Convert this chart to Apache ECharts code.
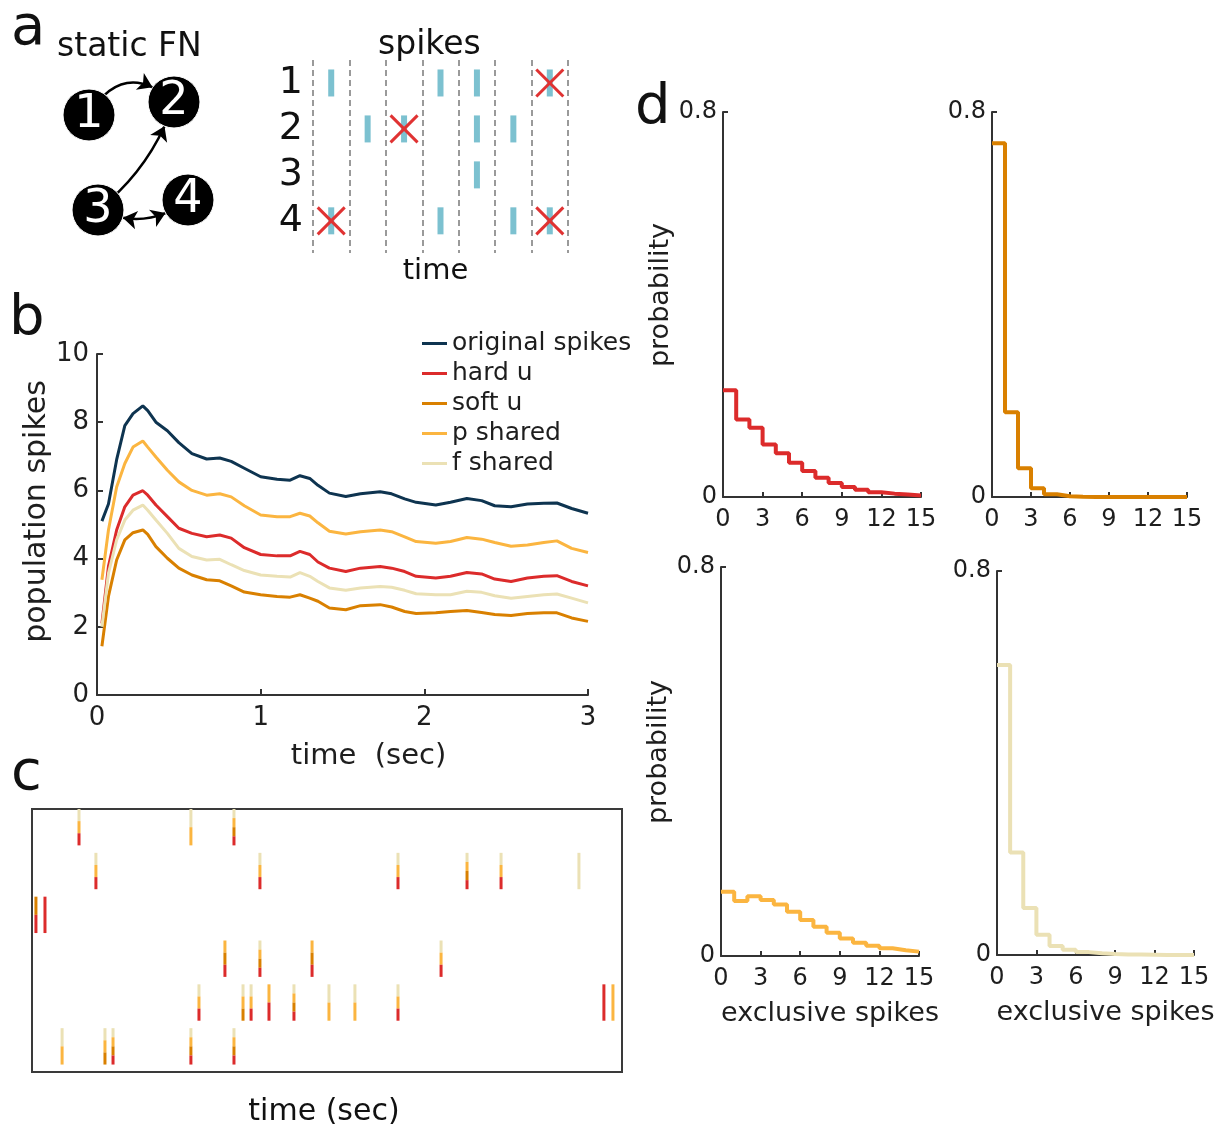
<!DOCTYPE html>
<html><head><meta charset="utf-8">
<script src="https://cdn.jsdelivr.net/npm/echarts@6/dist/echarts.min.js"></script>
<style>html,body{margin:0;padding:0;background:#fff}#c{width:1225px;height:1128px}</style>
</head><body><div id="c"></div>
<script>
const FONT = 'DejaVu Sans';
// ---------- panel a: network ----------
const nodeNames = ['1', '2', '3', '4'];
const nodeX = [1.45, 5.7, 1.9, 6.4];
const nodeY = [1.75, 1.1, 6.5, 6.0];
const edgeFrom = ['1', '3', '3'];
const edgeTo = ['2', '2', '4'];
const edgeCurve = [0.6, -0.15, -0.3];
const edgeBoth = [false, false, true];
// ---------- panel a: spikes ----------
const spikeRowLabels = [1, 2, 3, 4];
const spikeRow = [1, 1, 1, 1, 2, 2, 2, 2, 3, 4, 4, 4, 4];
const spikeBin = [1, 4, 5, 7, 2, 3, 5, 6, 5, 1, 4, 6, 7];
const spikeDropped = [0, 0, 0, 1, 0, 1, 0, 0, 0, 1, 0, 0, 1];
// ---------- panel b ----------
const timeB = [0.03,0.07,0.12,0.17,0.22,0.28,0.31,0.36,0.43,0.50,0.58,0.67,0.75,0.82,0.90,1.00,1.10,1.18,1.24,1.30,1.35,1.42,1.52,1.61,1.73,1.80,1.88,1.95,2.07,2.16,2.26,2.35,2.43,2.53,2.63,2.73,2.81,2.90,3.00];
const origSpikes = [5.1,5.6,6.9,7.9,8.25,8.48,8.34,8.0,7.75,7.4,7.08,6.92,6.95,6.85,6.65,6.4,6.33,6.3,6.43,6.35,6.15,5.92,5.82,5.9,5.96,5.9,5.75,5.65,5.57,5.65,5.76,5.7,5.55,5.52,5.6,5.62,5.63,5.47,5.33];
const hardU = [2.1,3.77,4.84,5.52,5.86,5.99,5.86,5.57,5.23,4.89,4.74,4.64,4.69,4.6,4.32,4.12,4.08,4.08,4.21,4.12,3.9,3.72,3.62,3.72,3.77,3.72,3.62,3.48,3.43,3.48,3.59,3.55,3.4,3.33,3.43,3.48,3.5,3.33,3.2];
const softU = [1.43,2.89,3.96,4.55,4.76,4.84,4.71,4.35,4.01,3.72,3.52,3.38,3.35,3.2,3.02,2.94,2.89,2.87,2.94,2.84,2.75,2.55,2.5,2.62,2.65,2.58,2.45,2.39,2.41,2.45,2.48,2.42,2.36,2.33,2.39,2.41,2.41,2.26,2.16];
const pShared = [3.38,4.84,6.1,6.79,7.27,7.45,7.27,6.98,6.59,6.25,6.0,5.86,5.9,5.81,5.55,5.28,5.23,5.23,5.33,5.25,5.05,4.8,4.72,4.79,4.84,4.79,4.64,4.5,4.45,4.5,4.62,4.57,4.47,4.36,4.4,4.47,4.52,4.3,4.18];
const fShared = [2.0,3.57,4.55,5.13,5.42,5.57,5.42,5.13,4.74,4.3,4.06,3.96,3.98,3.82,3.65,3.52,3.48,3.46,3.59,3.48,3.33,3.14,3.07,3.14,3.18,3.16,3.07,2.97,2.94,2.94,3.04,3.01,2.91,2.84,2.89,2.94,2.96,2.84,2.7];
const seriesNames = ['original spikes', 'hard u', 'soft u', 'p shared', 'f shared'];
// ---------- panel c ----------
const cTimes = [0.239,0.808,1.027, 0.325,1.159,1.861,2.212,2.385,2.781, 0.020,0.066, 0.981,1.159,1.424,2.080, 0.849,1.073,1.114,1.205,1.332,1.510,1.642,1.861,2.908,2.954, 0.153,0.371,0.412,0.808,1.027];
const cRows = [1,1,1, 2,2,2,2,2,2, 3,3, 4,4,4,4, 5,5,5,5,5,5,5,5,5,5, 6,6,6,6,6];
const cKept = ['fph','fp','fpsh', 'fph','fph','fph','fpsh','fph','f', 'sh','h', 'psh','fpsh','psh','fph', 'fph','fps','fph','ph','fpsh','fp','fp','fph','h','p', 'fp','fps','fpsh','fpsh','fpsh'];
// ---------- panel d ----------
const histBins = [0,1,2,3,4,5,6,7,8,9,10,11,12,13,14,15];
const hardHist = [0.222,0.161,0.144,0.109,0.091,0.071,0.054,0.040,0.029,0.021,0.015,0.010,0.007,0.005,0.003];
const softHist = [0.735,0.176,0.060,0.018,0.0055,0.0015,0.0005,0,0,0,0,0,0,0,0];
const pHist = [0.132,0.113,0.123,0.115,0.106,0.091,0.074,0.060,0.048,0.036,0.027,0.021,0.016,0.012,0.009];
const fHist = [0.604,0.2135,0.098,0.042,0.019,0.011,0.006,0.0035,0.002,0.001,0.001,0.0005,0,0,0];

const COL = { orig:'#0e3450', h:'#dc2b2b', s:'#d98000', p:'#fbb540', f:'#ebe1b5', spike:'#7cc1d0', x:'#e03232' };
const methodOrder = ['f', 'p', 's', 'h'];
const AX = '#333';
const TXT = '#1e1e1e';

const chart = echarts.init(document.getElementById('c'), null, { renderer: 'canvas' });

function title(text, left, top, size) {
  return { text, left, top, padding: 0, textStyle: { fontFamily: FONT, fontSize: size, fontWeight: 'normal', color: '#111' } };
}

function dAxisX(grid, name) {
  return {
    type: 'value', gridIndex: grid, min: 0, max: 15, interval: 3,
    axisLine: { show: true, lineStyle: { color: AX, width: 2 } },
    axisTick: { show: true, inside: true, length: 5, lineStyle: { color: AX, width: 2 } },
    axisLabel: { fontFamily: FONT, fontSize: 24, color: TXT, margin: 11 },
    splitLine: { show: false },
    name: name || '', nameLocation: 'middle', nameGap: 44,
    nameTextStyle: { fontFamily: FONT, fontSize: 27, color: TXT, padding: [0, 0, 0, 20] }
  };
}
function dAxisY(grid, name) {
  return {
    type: 'value', gridIndex: grid, min: 0, max: 0.8, interval: 0.8,
    axisLine: { show: true, lineStyle: { color: AX, width: 2 } },
    axisTick: { show: true, inside: true, length: 5, lineStyle: { color: AX, width: 2 } },
    axisLabel: { fontFamily: FONT, fontSize: 24, color: TXT, margin: 6 },
    splitLine: { show: false },
    name: name || '', nameLocation: 'middle', nameGap: 46,
    nameTextStyle: { fontFamily: FONT, fontSize: 27, color: TXT, padding: [0, 0, 0, 19] }
  };
}
function histSeries(name, arr, color, ax) {
  const pts = arr.map((v, i) => [histBins[i], v]);
  pts.push([histBins[arr.length], arr[arr.length - 1]]);
  return {
    type: 'line', name, xAxisIndex: ax, yAxisIndex: ax, data: pts, step: 'end',
    showSymbol: false, clip: false, lineStyle: { color, width: 4 }, itemStyle: { color }, z: 3
  };
}

const hiddenAxis = (grid, min, max, inverse) => ({
  type: 'value', gridIndex: grid, min, max, inverse: !!inverse, show: false
});

const option = {
  animation: false,
  backgroundColor: '#fff',
  textStyle: { fontFamily: FONT },
  title: [
    title('a', 11, 1, 56),
    title('b', 9, 291, 56),
    title('c', 11, 746, 56),
    title('d', 635, 80, 56),
    title('static FN', 57, 31, 33),
    title('spikes', 378, 29, 33)
  ],
  legend: {
    show: true, data: seriesNames, orient: 'vertical', left: 417, top: 326,
    icon: 'rect', itemWidth: 25, itemHeight: 3, itemGap: 5, selectedMode: false,
    textStyle: { fontFamily: FONT, fontSize: 25, color: TXT, lineHeight: 25 }
  },
  grid: [
    { left: 60, top: 80, width: 160, height: 160 },
    { left: 313, top: 60, width: 255, height: 193 },
    { left: 97, top: 354, width: 491, height: 341 },
    { left: 32, top: 809, width: 590, height: 264, show: true, borderColor: '#3a3a3a', borderWidth: 2, backgroundColor: 'transparent' },
    { left: 723, top: 112, width: 198, height: 385 },
    { left: 992, top: 112, width: 195, height: 385 },
    { left: 721, top: 567, width: 198, height: 389 },
    { left: 997, top: 571, width: 197, height: 384 }
  ],
  xAxis: [
    hiddenAxis(0, 0, 8),
    {
      type: 'value', gridIndex: 1, min: 0, max: 7, interval: 1,
      axisLine: { show: false }, axisTick: { show: false }, axisLabel: { show: false },
      splitLine: { show: true, lineStyle: { type: [6, 4], color: '#9a9a9a', width: 2 } },
      name: 'time', nameLocation: 'middle', nameGap: 4,
      nameTextStyle: { fontFamily: FONT, fontSize: 29, color: '#111', verticalAlign: 'top', padding: [0, 10, 0, 0] }
    },
    {
      type: 'value', gridIndex: 2, min: 0, max: 3, interval: 1,
      axisLine: { show: true, lineStyle: { color: AX, width: 2 } },
      axisTick: { show: true, inside: true, length: 6, lineStyle: { color: AX, width: 2 } },
      axisLabel: { fontFamily: FONT, fontSize: 26, color: TXT, margin: 10 },
      splitLine: { show: false },
      name: 'time  (sec)', nameLocation: 'middle', nameGap: 47,
      nameTextStyle: { fontFamily: FONT, fontSize: 29, color: TXT, padding: [0, 0, 0, 52] }
    },
    {
      type: 'value', gridIndex: 3, min: 0, max: 3,
      axisLine: { show: false }, axisTick: { show: false }, axisLabel: { show: false }, splitLine: { show: false },
      name: 'time (sec)', nameLocation: 'middle', nameGap: 25,
      nameTextStyle: { fontFamily: FONT, fontSize: 30, color: '#111', verticalAlign: 'top', padding: [0, 6, 0, 0] }
    },
    dAxisX(4), dAxisX(5), dAxisX(6, 'exclusive spikes'), dAxisX(7, 'exclusive spikes')
  ],
  yAxis: [
    hiddenAxis(0, 0, 8, true),
    {
      type: 'value', gridIndex: 1, min: 0.5, max: 4.7, inverse: true,
      axisLine: { show: false }, axisTick: { show: false }, splitLine: { show: false },
      axisLabel: { show: true, customValues: spikeRowLabels, fontFamily: FONT, fontSize: 38, color: '#111', margin: 10, padding: [6, 0, 0, 0] }
    },
    {
      type: 'value', gridIndex: 2, min: 0, max: 10, interval: 2,
      axisLine: { show: true, lineStyle: { color: AX, width: 2 } },
      axisTick: { show: true, inside: true, length: 6, lineStyle: { color: AX, width: 2 } },
      axisLabel: { fontFamily: FONT, fontSize: 26, color: TXT, margin: 8 },
      splitLine: { show: false },
      name: 'population spikes', nameLocation: 'middle', nameGap: 42,
      nameTextStyle: { fontFamily: FONT, fontSize: 30, color: TXT, padding: [0, 0, 0, 26] }
    },
    hiddenAxis(3, 0, 6, true),
    dAxisY(4, 'probability'), dAxisY(5), dAxisY(6, 'probability'), dAxisY(7)
  ],
  series: [
    {
      type: 'graph', coordinateSystem: 'cartesian2d', xAxisIndex: 0, yAxisIndex: 0,
      symbol: 'circle', symbolSize: 52, silent: true,
      itemStyle: { color: '#000', borderColor: '#fff', borderWidth: 1 },
      label: { show: true, position: 'inside', color: '#fff', fontSize: 46, fontFamily: FONT },
      edgeSymbol: ['none', 'arrow'], edgeSymbolSize: 14,
      lineStyle: { color: '#000', width: 2.5, opacity: 1 },
      data: nodeNames.map((n, i) => ({ name: n, value: [nodeX[i], nodeY[i]] })),
      links: edgeFrom.map((f, i) => ({
        source: f, target: edgeTo[i],
        symbol: edgeBoth[i] ? ['arrow', 'arrow'] : ['none', 'arrow'],
        lineStyle: { curveness: edgeCurve[i] }
      }))
    },
    {
      type: 'custom', xAxisIndex: 1, yAxisIndex: 1, silent: true, clip: false,
      data: spikeBin.map((b, i) => [b - 0.5, spikeRow[i], spikeDropped[i]]),
      renderItem: function (params, api) {
        const p = api.coord([api.value(0), api.value(1)]);
        const children = [{ type: 'rect', shape: { x: p[0] - 3, y: p[1] - 13.5, width: 6, height: 27 }, style: { fill: COL.spike } }];
        if (api.value(2)) {
          const s = 13.5;
          children.push(
            { type: 'line', shape: { x1: p[0] - s, y1: p[1] - s, x2: p[0] + s, y2: p[1] + s }, style: { stroke: COL.x, lineWidth: 3 } },
            { type: 'line', shape: { x1: p[0] - s, y1: p[1] + s, x2: p[0] + s, y2: p[1] - s }, style: { stroke: COL.x, lineWidth: 3 } }
          );
        }
        return { type: 'group', children };
      }
    },
    { type: 'line', name: seriesNames[0], xAxisIndex: 2, yAxisIndex: 2, data: timeB.map((t, i) => [t, origSpikes[i]]), showSymbol: false, lineStyle: { color: COL.orig, width: 3 }, itemStyle: { color: COL.orig } },
    { type: 'line', name: seriesNames[1], xAxisIndex: 2, yAxisIndex: 2, data: timeB.map((t, i) => [t, hardU[i]]), showSymbol: false, lineStyle: { color: COL.h, width: 3 }, itemStyle: { color: COL.h } },
    { type: 'line', name: seriesNames[2], xAxisIndex: 2, yAxisIndex: 2, data: timeB.map((t, i) => [t, softU[i]]), showSymbol: false, lineStyle: { color: COL.s, width: 3 }, itemStyle: { color: COL.s } },
    { type: 'line', name: seriesNames[3], xAxisIndex: 2, yAxisIndex: 2, data: timeB.map((t, i) => [t, pShared[i]]), showSymbol: false, lineStyle: { color: COL.p, width: 3 }, itemStyle: { color: COL.p } },
    { type: 'line', name: seriesNames[4], xAxisIndex: 2, yAxisIndex: 2, data: timeB.map((t, i) => [t, fShared[i]]), showSymbol: false, lineStyle: { color: COL.f, width: 3 }, itemStyle: { color: COL.f } },
    {
      type: 'custom', xAxisIndex: 3, yAxisIndex: 3, silent: true,
      data: cTimes.map((t, i) => [t, cRows[i] - 1, i]),
      renderItem: function (params, api) {
        const t = api.value(0), r = api.value(1), kept = cKept[api.value(2)];
        const top = api.coord([t, r]);
        const bot = api.coord([t, r + 0.83]);
        const ms = methodOrder.filter(m => kept.indexOf(m) >= 0);
        const h = (bot[1] - top[1]) / ms.length;
        return {
          type: 'group',
          children: ms.map((m, k) => ({
            type: 'rect', shape: { x: top[0] - 1.5, y: top[1] + k * h, width: 3, height: h },
            style: { fill: COL[m] }
          }))
        };
      }
    },
    histSeries('hard u hist', hardHist, COL.h, 4),
    histSeries('soft u hist', softHist, COL.s, 5),
    histSeries('p shared hist', pHist, COL.p, 6),
    histSeries('f shared hist', fHist, COL.f, 7)
  ]
};
chart.setOption(option);
</script>
</body></html>
